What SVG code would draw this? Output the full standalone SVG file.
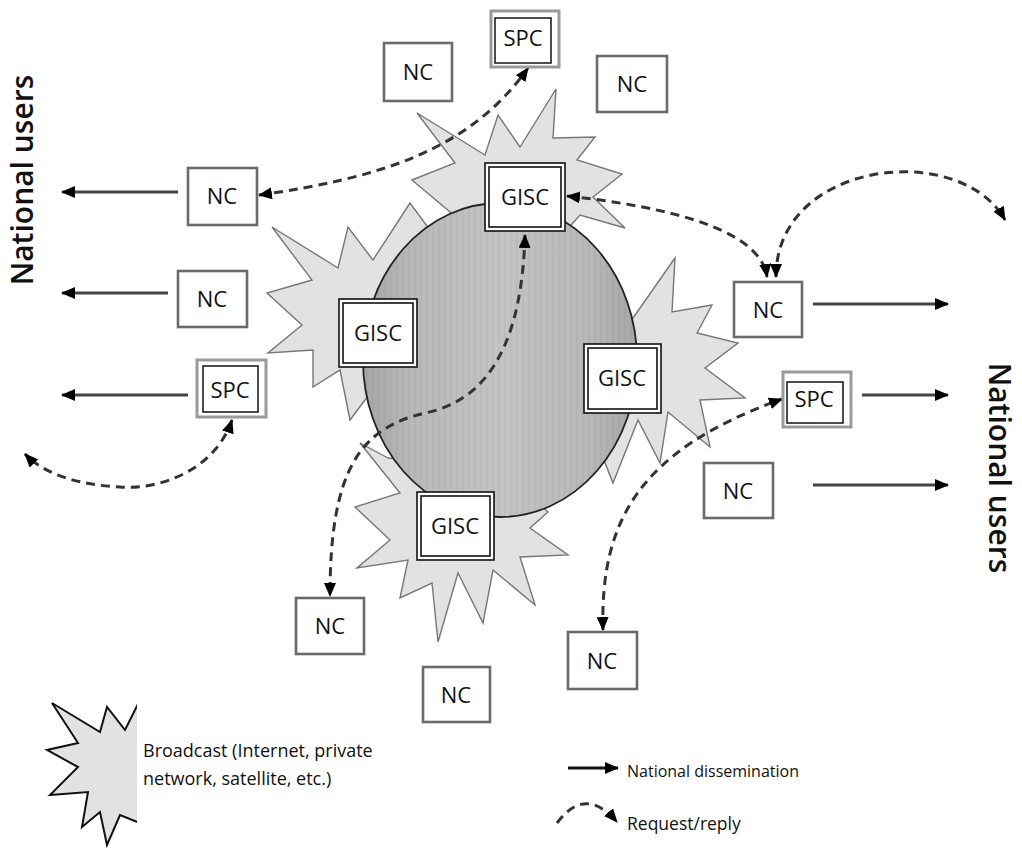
<svg xmlns="http://www.w3.org/2000/svg" width="1022" height="848" viewBox="0 0 1022 848">
<style>
.star{fill:#e2e2e2;stroke:#777;stroke-width:1.4;stroke-linejoin:miter}
.nc{fill:#fff;stroke:#6a6a6a;stroke-width:2.6}
.spco{fill:#fff;stroke:#9a9a9a;stroke-width:3}
.spci{fill:none;stroke:#111;stroke-width:1.5}
.gisc{fill:#fff;stroke:#111;stroke-width:1.6}
.gisci{fill:none;stroke:#111;stroke-width:1.6}
.lbl{font-family:"Open Sans","Noto Sans","DejaVu Sans",sans-serif;font-size:22px;fill:#111;text-anchor:middle}
.solid{stroke:#444;stroke-width:3.2;fill:none;marker-end:url(#ah)}
.dash{stroke:#333;stroke-width:3;fill:none;stroke-dasharray:9 6;marker-end:url(#ah)}
.dash2{stroke:#333;stroke-width:3;fill:none;stroke-dasharray:9 6;marker-start:url(#ah);marker-end:url(#ah)}
.big{font-family:"Open Sans","Noto Sans","DejaVu Sans",sans-serif;font-size:30px;font-weight:600;fill:#111;text-anchor:middle}
.leg{font-family:"Open Sans","Noto Sans","DejaVu Sans",sans-serif;font-size:16px;fill:#111}
</style>
<defs>
<marker id="ah" viewBox="0 0 14 12" refX="13" refY="6" markerWidth="14" markerHeight="12" markerUnits="userSpaceOnUse" orient="auto-start-reverse">
<path d="M0,0 L14,6 L0,12 Z" fill="#000"/>
</marker>
<linearGradient id="globe" x1="0" y1="0" x2="1" y2="0">
<stop offset="0" stop-color="#a6a6a6"/>
<stop offset="0.18" stop-color="#b8b8b8"/>
<stop offset="0.5" stop-color="#c4c4c4"/>
<stop offset="0.82" stop-color="#b8b8b8"/>
<stop offset="1" stop-color="#a6a6a6"/>
</linearGradient>
<pattern id="stripes" width="6" height="10" patternUnits="userSpaceOnUse">
<rect x="0" y="0" width="1.5" height="10" fill="#000" fill-opacity="0.04"/>
</pattern>
<clipPath id="legclip"><rect x="0" y="680" width="137" height="168"/></clipPath>
</defs>

<g id="broadcast-stars">
<polygon class="star" points="412,180 455,163 417,113 485,155 498,115 520,147 556,89 553,138 595,137 577,160 622,174 593,197 625,228 580,215 540,260 470,240 450,212"/>
<polygon class="star" points="410,203 373,260 348,227 338,268 272,227 312,280 267,293 302,325 268,353 313,350 313,387 340,370 350,420 380,380 430,300 430,230"/>
<polygon class="star" points="633,318 675,258 672,312 712,305 697,333 738,343 705,368 745,398 700,400 710,447 668,412 660,463 638,420 613,483 600,450 600,330"/>
<polygon class="star" points="388,458 360,443 400,493 355,507 390,540 357,568 408,560 400,598 432,583 438,642 458,573 483,623 493,570 535,605 520,557 568,555 530,528 548,512 500,470 420,460"/>
</g>

<g id="globe">
<ellipse cx="500" cy="360" rx="137" ry="157" fill="url(#globe)" stroke="#222" stroke-width="1.8"/>
<ellipse cx="500" cy="360" rx="136" ry="156" fill="url(#stripes)"/>
</g>

<g id="connectors">
<line class="solid" x1="178" y1="192" x2="62" y2="192"/>
<line class="solid" x1="168" y1="293" x2="62" y2="293"/>
<line class="solid" x1="188" y1="395" x2="62" y2="395"/>
<line class="solid" x1="813" y1="304" x2="948" y2="304"/>
<line class="solid" x1="862" y1="395" x2="948" y2="395"/>
<line class="solid" x1="813" y1="485" x2="948" y2="485"/>
<path class="dash2" d="M259,195 C380,178 470,150 528,68"/>
<path class="dash2" d="M567,196 C650,205 760,225 767,277"/>
<path class="dash2" d="M776,277 C776,160 960,140 1005,220"/>
<path class="dash2" d="M525,235 C522,340 490,400 425,413 C360,428 330,470 330,596"/>
<path class="dash2" d="M603,630 C600,520 640,450 782,399"/>
<path class="dash2" d="M232,420 C215,470 160,490 120,487 C80,485 45,475 25,454"/>
</g>

<g id="gisc-top"><rect class="gisc" x="485" y="163" width="80" height="68"/><rect class="gisci" x="489" y="167" width="72" height="60"/><text class="lbl" x="525" y="205">GISC</text></g>
<g id="gisc-left"><rect class="gisc" x="339" y="299" width="78" height="68"/><rect class="gisci" x="343" y="303" width="70" height="60"/><text class="lbl" x="378" y="341">GISC</text></g>
<g id="gisc-right"><rect class="gisc" x="584" y="344" width="77" height="69"/><rect class="gisci" x="588" y="348" width="69" height="61"/><text class="lbl" x="622" y="386">GISC</text></g>
<g id="gisc-bottom"><rect class="gisc" x="417" y="492" width="77" height="68"/><rect class="gisci" x="421" y="496" width="69" height="60"/><text class="lbl" x="455" y="534">GISC</text></g>

<g id="nc-top-left"><rect class="nc" x="384" y="43" width="68" height="58"/><text class="lbl" x="418" y="80">NC</text></g>
<g id="spc-top"><rect class="spco" x="491" y="11" width="68" height="56"/><rect class="spci" x="495" y="18" width="56" height="45"/><text class="lbl" x="523" y="46">SPC</text></g>
<g id="nc-top-right"><rect class="nc" x="597" y="56" width="70" height="56"/><text class="lbl" x="632" y="92">NC</text></g>

<g id="nc-left-1"><rect class="nc" x="188" y="168" width="69" height="57"/><text class="lbl" x="222" y="204">NC</text></g>
<g id="nc-left-2"><rect class="nc" x="178" y="271" width="69" height="56"/><text class="lbl" x="212" y="307">NC</text></g>
<g id="spc-left"><rect class="spco" x="197" y="360" width="69" height="57"/><rect class="spci" x="203" y="366" width="55" height="46"/><text class="lbl" x="230" y="398">SPC</text></g>

<g id="nc-right-1"><rect class="nc" x="734" y="282" width="68" height="55"/><text class="lbl" x="768" y="318">NC</text></g>
<g id="spc-right"><rect class="spco" x="783" y="372" width="68" height="55"/><rect class="spci" x="787" y="382" width="56" height="41"/><text class="lbl" x="814" y="407">SPC</text></g>
<g id="nc-right-2"><rect class="nc" x="704" y="463" width="69" height="55"/><text class="lbl" x="738" y="499">NC</text></g>

<g id="nc-bottom-left"><rect class="nc" x="296" y="598" width="68" height="56"/><text class="lbl" x="330" y="634">NC</text></g>
<g id="nc-bottom-mid"><rect class="nc" x="423" y="667" width="67" height="55"/><text class="lbl" x="456" y="703">NC</text></g>
<g id="nc-bottom-right"><rect class="nc" x="568" y="632" width="69" height="57"/><text class="lbl" x="602" y="669">NC</text></g>

<g id="side-labels">
<text class="big" transform="translate(33,180) rotate(-90)">National users</text>
<text class="big" transform="translate(989,468) rotate(90)">National users</text>
</g>

<g id="legend">
<polygon clip-path="url(#legclip)" points="52,703 100,732 107,707 125,730 140,700 150,760 140,823 120,815 107,845 100,812 82,827 88,792 50,795 78,767 47,750 78,743" fill="#e2e2e2" stroke="#111" stroke-width="2"/>
<text class="leg" x="143" y="757" style="font-size:18px">Broadcast (Internet, private</text>
<text class="leg" x="143" y="785" style="font-size:18px">network, satellite, etc.)</text>
<line class="solid" x1="568" y1="768" x2="618" y2="768" style="stroke:#111"/>
<text class="leg" x="627" y="777">National dissemination</text>
<path class="dash" d="M557,823 Q585,785 617,822"/>
<text class="leg" x="627" y="830" style="font-size:17.5px">Request/reply</text>
</g>
</svg>
